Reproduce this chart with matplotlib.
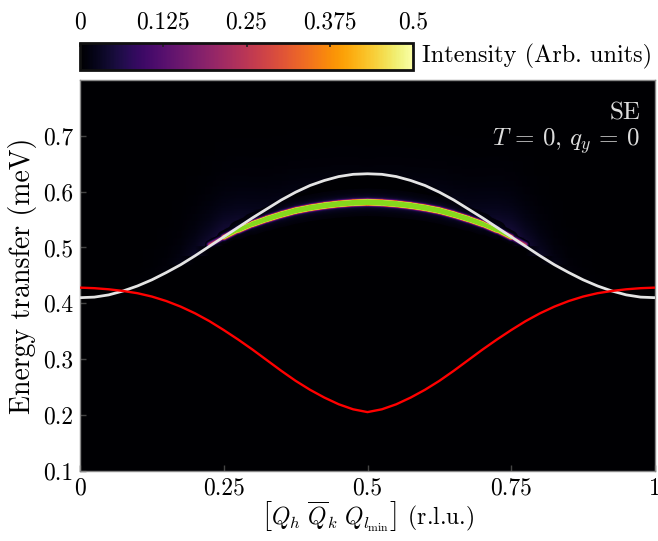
import numpy as np
import matplotlib
matplotlib.use("Agg")
import matplotlib.pyplot as plt
from matplotlib.collections import LineCollection
from matplotlib.colors import Normalize

plt.rcParams['font.family'] = ['cmr10']
plt.rcParams['mathtext.fontset'] = 'cm'
plt.rcParams['axes.formatter.use_mathtext'] = True

# ---------------- data ----------------
q = np.linspace(0, 1, 41)
white_E = [0.410, 0.411, 0.415, 0.422, 0.431, 0.442, 0.455, 0.469, 0.485, 0.502,
           0.519, 0.536, 0.553, 0.569, 0.585, 0.599, 0.611, 0.620, 0.627, 0.631,
           0.632,
           0.631, 0.627, 0.620, 0.611, 0.599, 0.585, 0.569, 0.553, 0.536, 0.519,
           0.502, 0.485, 0.469, 0.455, 0.442, 0.431, 0.422, 0.415, 0.411, 0.410]
red_E = [0.428, 0.427, 0.425, 0.422, 0.418, 0.412, 0.404, 0.394, 0.382, 0.368,
         0.352, 0.335, 0.317, 0.298, 0.279, 0.261, 0.245, 0.231, 0.219, 0.210,
         0.205,
         0.210, 0.219, 0.231, 0.245, 0.261, 0.279, 0.298, 0.317, 0.335, 0.352,
         0.368, 0.382, 0.394, 0.404, 0.412, 0.418, 0.422, 0.425, 0.427, 0.428]
glow_I = [0, 0, 0, 0, 0.003, 0.006, 0.010, 0.020, 0.035, 0.050,
          0.060, 0.050, 0.035, 0.025, 0.020, 0.018, 0.015, 0.013, 0.012, 0.011,
          0.010,
          0.011, 0.012, 0.013, 0.015, 0.018, 0.020, 0.025, 0.035, 0.050, 0.060,
          0.050, 0.035, 0.020, 0.010, 0.006, 0.003, 0, 0, 0, 0]

band_q = np.linspace(0.225, 0.775, 23)
band_E = [0.505, 0.518, 0.531, 0.542, 0.551, 0.559, 0.566, 0.571, 0.575, 0.578, 0.580,
          0.581,
          0.580, 0.578, 0.575, 0.571, 0.566, 0.559, 0.551, 0.542, 0.531, 0.518, 0.505]
band_I = [0.1, 0.5, 1.2, 1.8, 2.2, 2.5, 2.7, 2.8, 2.9, 3.0, 3.0,
          3.0,
          3.0, 3.0, 2.9, 2.8, 2.7, 2.5, 2.2, 1.8, 1.2, 0.5, 0.1]

cbar_ticks = [0, 0.125, 0.25, 0.375, 0.5]
cbar_ticklabels = ['0', '0.125', '0.25', '0.375', '0.5']
x_ticks = [0, 0.25, 0.5, 0.75, 1]
x_ticklabels = ['0', '0.25', '0.5', '0.75', '1']
y_ticks = [0.1, 0.2, 0.3, 0.4, 0.5, 0.6, 0.7]
y_ticklabels = ['0.1', '0.2', '0.3', '0.4', '0.5', '0.6', '0.7']

# ---------------- figure ----------------
W, H = 658, 541
dpi = 100
fig = plt.figure(figsize=(W / dpi, H / dpi), dpi=dpi)
ax_l, ax_r, ax_t, ax_b = 80, 655, 80, 470.7
ax = fig.add_axes([ax_l / W, (H - ax_b) / H, (ax_r - ax_l) / W, (ax_b - ax_t) / H])
ax.set_facecolor('black')
ylim = (0.1, 0.8)
cmap = plt.get_cmap('inferno').copy()
green = '#86d81c'
cmap.set_over(green)
norm = Normalize(0, 0.5)

# diffuse glow above the upper curve
Eg = np.linspace(ylim[0], ylim[1], 400)
wE = np.array(white_E)
gI = np.array(glow_I)
field = np.where(Eg[:, None] >= wE[None, :],
                 gI[None, :] * np.exp(-(Eg[:, None] - wE[None, :]) / 0.05), 0.0)
dq = q[1] - q[0]
ax.imshow(field, origin='lower', aspect='auto', cmap=cmap, norm=norm,
          extent=(q[0] - dq / 2, q[-1] + dq / 2, ylim[0], ylim[1]),
          interpolation='bilinear', zorder=1)

# sharp spectral band: nested strokes of a Gaussian-core / Lorentzian-tail profile
sigma, gamma, tail = 0.0025, 0.006, 0.05
d = np.linspace(0, 0.05, 2000)
prof = np.exp(-d ** 2 / (2 * sigma ** 2)) + tail / (1 + (d / gamma) ** 2)
prof = prof / prof[0]
px_per_meV = (ax_b - ax_t) / (ylim[1] - ylim[0])
pts = np.column_stack([band_q, band_E])
segs = np.stack([pts[:-1], pts[1:]], axis=1)
bI = np.array(band_I)
A_seg = 0.5 * (bI[:-1] + bI[1:])
levels = list(np.geomspace(0.008, 0.49, 36)) + [0.5]
for L in levels:
    ratio = L / A_seg
    hw = np.where(ratio < 1, np.interp(ratio, prof[::-1], d[::-1]), 0)
    lw = 2 * hw * px_per_meV * 72 / dpi
    col = cmap(norm(L)) if L < 0.5 else green
    lc = LineCollection(segs, linewidths=lw, colors=[col], capstyle='round',
                        joinstyle='round', zorder=2)
    ax.add_collection(lc)

ax.plot(q, white_E, color='#e4e4e4', lw=2.0, zorder=4, solid_capstyle='butt')
ax.plot(q, red_E, color='#ff0000', lw=1.7, zorder=4, solid_capstyle='butt')

ax.set_xlim(0, 1)
ax.set_ylim(*ylim)
ax.set_xticks(x_ticks)
ax.set_xticklabels(x_ticklabels)
ax.set_yticks(y_ticks)
ax.set_yticklabels(y_ticklabels)
ax.tick_params(direction='in', length=4, width=1, color='#444444',
               labelsize=17, pad=5)
for s in ax.spines.values():
    s.set_color('#888888')
    s.set_linewidth(1.0)

ax.set_ylabel('Energy transfer (meV)', fontsize=20, labelpad=4)
ax.set_xlabel(r'$\left[Q_h\ \overline{Q}_k\ Q_{l_{\rm min}}\right]$ (r.l.u.)',
              fontsize=17, labelpad=0)

ax.text(0.974, 0.915, 'SE', transform=ax.transAxes, ha='right', va='center',
        color='#dddddd', fontsize=18, zorder=5)
ax.text(0.974, 0.843, r'$T\,=\,0,\,q_y\,=\,0$', transform=ax.transAxes, ha='right',
        va='center', color='#dddddd', fontsize=18, zorder=5)

# colorbar
cb_l, cb_r, cb_t, cb_b = 80, 413, 43, 70
cax = fig.add_axes([cb_l / W, (H - cb_b) / H, (cb_r - cb_l) / W, (cb_b - cb_t) / H])
sm = plt.cm.ScalarMappable(norm=norm, cmap=plt.get_cmap('inferno'))
cb = fig.colorbar(sm, cax=cax, orientation='horizontal')
cb.set_ticks(cbar_ticks)
cb.set_ticklabels(cbar_ticklabels)
cax.xaxis.set_ticks_position('top')
cax.xaxis.set_label_position('top')
cax.tick_params(direction='in', length=3, width=1.2, color='#222222',
                labelsize=17, pad=7)
cb.outline.set_linewidth(2)
cb.outline.set_edgecolor('#111111')
fig.text((cb_r + 9) / W, 1 - ((cb_t + cb_b) / 2) / H, 'Intensity (Arb. units)',
         ha='left', va='center', fontsize=17.5)

fig.savefig('out.png', dpi=dpi, facecolor='white')
